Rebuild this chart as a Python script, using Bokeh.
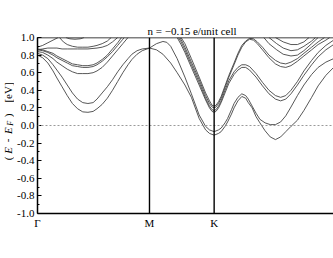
from bokeh.plotting import figure
from bokeh.layouts import row
from bokeh.models import Range1d, Span, Title, FixedTicker, SingleIntervalTicker, PrintfTickFormatter
from bokeh.core.properties import value
from bokeh.embed import file_html
from bokeh.resources import INLINE
from math import pi

TITLE = "n = \u22120.15 e/unit cell"
TICK_POS = [0.0, 0.866, 1.366]
TICK_LABELS = ["\u0393", "M", "K"]
K_END = 2.289

B1_K = [0.00,0.04,0.08,0.12,0.15,0.19,0.23,0.27,0.31,0.35,0.39,0.43,0.46,0.50,0.54,0.58,0.62,0.66,0.70,0.73,0.77,0.81,0.866,0.92,0.97,1.00,1.03,1.08,1.14,1.19,1.25,1.30,1.33,1.366,1.40,1.42,1.45,1.47,1.50,1.52,1.55,1.58,1.61,1.63,1.66,1.69,1.72,1.76,1.80,1.84,1.88,1.92,1.96,2.01,2.06,2.12,2.17,2.23,2.29]
B1_E = [0.80,0.77,0.71,0.62,0.54,0.44,0.34,0.25,0.19,0.155,0.15,0.16,0.19,0.24,0.31,0.40,0.50,0.60,0.69,0.75,0.81,0.85,0.88,0.93,0.955,0.945,0.90,0.76,0.55,0.36,0.12,-0.01,-0.05,-0.07,-0.05,-0.03,0.03,0.08,0.18,0.25,0.32,0.36,0.34,0.30,0.22,0.14,0.07,0.03,0.01,0.01,0.04,0.11,0.21,0.34,0.46,0.58,0.66,0.72,0.76]

B2_K = [0.00,0.04,0.08,0.12,0.15,0.19,0.23,0.27,0.31,0.35,0.39,0.43,0.46,0.50,0.54,0.58,0.62,0.66,0.70,0.73,0.77,0.81,0.866,0.92,0.97,1.03,1.08,1.14,1.19,1.25,1.30,1.33,1.366,1.40,1.42,1.45,1.47,1.50,1.52,1.55,1.58,1.61,1.63,1.66,1.69,1.72,1.76,1.80,1.84,1.88,1.92,1.96,2.01,2.06,2.12,2.17,2.23,2.29]
B2_E = [0.82,0.80,0.76,0.69,0.63,0.55,0.46,0.37,0.30,0.26,0.25,0.26,0.30,0.37,0.44,0.52,0.61,0.69,0.76,0.81,0.85,0.87,0.88,0.86,0.81,0.71,0.60,0.46,0.32,0.08,-0.05,-0.09,-0.11,-0.09,-0.07,-0.01,0.04,0.13,0.20,0.28,0.33,0.31,0.26,0.20,0.10,0.03,-0.06,-0.13,-0.16,-0.13,-0.07,-0.01,0.06,0.17,0.32,0.45,0.57,0.66]

C1_K = [1.08,1.11,1.14,1.19,1.25,1.30,1.33,1.35,1.366,1.38,1.40,1.42,1.45,1.48,1.52,1.55,1.58,1.61,1.64,1.69,1.74,1.79,1.84,1.88,1.92,1.96,2.01,2.06,2.12,2.17,2.23,2.29]
C1_E = [1.00,0.92,0.83,0.66,0.46,0.29,0.20,0.16,0.15,0.16,0.20,0.26,0.37,0.48,0.58,0.63,0.66,0.66,0.63,0.55,0.45,0.36,0.30,0.28,0.30,0.36,0.46,0.57,0.69,0.78,0.86,0.92]

C2_K = [1.09,1.11,1.14,1.19,1.25,1.30,1.33,1.35,1.366,1.38,1.40,1.42,1.45,1.48,1.52,1.55,1.58,1.61,1.64,1.69,1.74,1.79,1.84,1.88,1.92,1.96,2.01,2.06,2.12,2.17,2.23,2.29]
C2_E = [1.00,0.95,0.86,0.69,0.49,0.31,0.22,0.18,0.17,0.18,0.22,0.28,0.40,0.51,0.61,0.66,0.69,0.69,0.67,0.59,0.49,0.40,0.34,0.32,0.34,0.40,0.50,0.62,0.74,0.83,0.91,0.97]

C3_K = [1.10,1.12,1.14,1.19,1.25,1.30,1.33,1.35,1.366,1.38,1.40,1.42,1.45,1.48,1.52,1.55,1.58,1.61,1.64,1.67,1.70,1.74,1.79,1.84,1.88,1.92,1.96,2.01,2.06,2.12,2.17,2.23,2.26]
C3_E = [1.00,0.95,0.89,0.72,0.52,0.34,0.25,0.21,0.20,0.21,0.25,0.31,0.43,0.55,0.69,0.80,0.89,0.95,0.98,0.97,0.93,0.86,0.77,0.70,0.67,0.66,0.68,0.73,0.79,0.86,0.92,0.97,1.00]

C4_K = [1.11,1.14,1.19,1.25,1.30,1.33,1.35,1.366,1.38,1.40,1.42,1.45,1.48,1.52,1.55,1.58,1.61,1.64,1.67,1.70,1.74,1.79,1.84,1.88,1.92,1.96,2.01,2.06,2.12,2.17,2.22]
C4_E = [1.00,0.93,0.76,0.55,0.37,0.28,0.23,0.22,0.23,0.27,0.33,0.45,0.57,0.71,0.82,0.91,0.96,0.99,0.985,0.95,0.89,0.80,0.74,0.71,0.70,0.72,0.76,0.82,0.89,0.95,1.00]

GC_K = [0.00,0.04,0.08,0.12,0.15,0.19,0.23,0.27,0.31,0.35,0.39,0.43,0.46,0.50,0.54,0.58,0.62,0.66,0.70]
GC_E = [0.84,0.83,0.80,0.76,0.72,0.68,0.64,0.61,0.59,0.59,0.59,0.60,0.62,0.66,0.72,0.79,0.86,0.93,1.00]

GD_K = [0.00,0.04,0.08,0.12,0.15,0.19,0.23,0.27,0.31,0.35,0.39,0.43,0.46,0.50,0.54,0.58,0.62,0.66,0.67]
GD_E = [0.86,0.85,0.83,0.80,0.77,0.74,0.71,0.68,0.67,0.66,0.66,0.67,0.69,0.73,0.78,0.84,0.91,0.98,1.00]

GE_K = [0.00,0.04,0.08,0.12,0.15,0.19,0.23,0.27,0.31,0.35,0.39,0.43,0.46,0.50,0.54,0.58,0.62,0.65]
GE_E = [0.87,0.86,0.84,0.82,0.79,0.76,0.73,0.70,0.69,0.68,0.68,0.69,0.71,0.75,0.80,0.87,0.94,1.00]

GF_K = [0.00,0.04,0.08,0.12,0.15,0.19,0.23,0.31,0.39,0.46,0.50,0.54,0.58,0.62]
GF_E = [0.86,0.87,0.88,0.88,0.88,0.87,0.87,0.87,0.87,0.88,0.89,0.91,0.95,1.00]

GG0_K = [0.00,0.04,0.08,0.12,0.16]
GG0_E = [0.89,0.91,0.94,0.97,1.00]

GG_K = [0.17,0.20,0.23,0.27,0.31,0.35,0.39,0.43,0.46,0.50,0.54,0.57]
GG_E = [1.00,0.95,0.92,0.90,0.89,0.89,0.89,0.90,0.91,0.93,0.96,1.00]

GH_K = [0.22,0.25,0.29,0.33,0.36]
GH_E = [1.00,0.985,0.98,0.985,1.00]

U1_K = [1.75,1.79,1.85,1.90,1.96,2.01,2.06,2.12,2.17]
U1_E = [1.00,0.93,0.86,0.81,0.79,0.80,0.85,0.93,1.00]
U2_K = [1.79,1.85,1.90,1.96,2.01,2.06,2.12,2.15]
U2_E = [1.00,0.93,0.88,0.85,0.86,0.90,0.96,1.00]
U3_K = [1.84,1.90,1.96,2.01,2.06,2.10]
U3_E = [1.00,0.95,0.92,0.92,0.95,1.00]

BANDS = [(B1_K, B1_E), (B2_K, B2_E), (C1_K, C1_E), (C2_K, C2_E), (C3_K, C3_E), (C4_K, C4_E),
         (GC_K, GC_E), (GD_K, GD_E), (GE_K, GE_E), (GF_K, GF_E), (GG0_K, GG0_E), (GG_K, GG_E),
         (GH_K, GH_E), (U1_K, U1_E), (U2_K, U2_E), (U3_K, U3_E)]

YLABEL_PARTS = ["(", "E", "-", "E", "F", ")", "[eV]"]
YLABEL_POS = [-0.375, -0.284, -0.170, -0.057, 0.025, 0.114, 0.375]

SERIF = "Liberation Serif"
FRAME_W, FRAME_H = 296, 176
TOP, BOTTOM = 37, 37

lab = figure(frame_width=14, frame_height=FRAME_H, output_backend="svg", toolbar_location=None,
             x_range=Range1d(0, 14), y_range=Range1d(-1.0, 1.0),
             min_border_left=0, min_border_right=0, min_border_top=TOP, min_border_bottom=BOTTOM)
lab.axis.visible = False
lab.grid.visible = False
lab.outline_line_color = None
styles = ["normal", "italic", "normal", "italic", "italic", "normal", "normal"]
sizes = ["11px", "11px", "11px", "11px", "8px", "11px", "11px"]
xs = [7, 7, 7, 7, 10, 7, 7]
for txt, yy, st, sz, xx in zip(YLABEL_PARTS, YLABEL_POS, styles, sizes, xs):
    lab.text(x=[xx], y=[yy], text=[txt], angle=pi / 2, text_align="center", text_baseline="middle",
             text_font=value(SERIF), text_font_style=st, text_font_size=sz, text_color="black")

p = figure(frame_width=FRAME_W, frame_height=FRAME_H, output_backend="svg", toolbar_location=None,
           x_range=Range1d(0, K_END), y_range=Range1d(-1.0, 1.0),
           min_border_left=21, min_border_right=0, min_border_top=TOP, min_border_bottom=BOTTOM)
p.outline_line_color = None
p.grid.visible = False

for kk, ee in BANDS:
    p.line(kk, ee, line_color="#444444", line_width=0.9)

p.add_layout(Span(location=0.0, dimension="width", line_color="#9a9a9a", line_width=1, line_dash="2 2"))
for t in TICK_POS[1:]:
    p.add_layout(Span(location=t, dimension="height", line_color="black", line_width=1.4))
p.add_layout(Span(location=1.0, dimension="width", line_color="black", line_width=1.4))

ya = p.yaxis[0]
ya.ticker = SingleIntervalTicker(interval=0.2, num_minor_ticks=2)
ya.formatter = PrintfTickFormatter(format="%.1f")
ya.axis_line_width = 1.5
ya.axis_line_color = "black"
ya.major_tick_in = 4
ya.major_tick_out = 0
ya.minor_tick_in = 2
ya.minor_tick_out = 0
ya.major_tick_line_width = 1.2
ya.major_label_standoff = 3
ya.major_label_text_font = SERIF
ya.major_label_text_font_size = "11px"
ya.major_label_text_color = "black"

xa = p.xaxis[0]
xa.ticker = FixedTicker(ticks=TICK_POS)
xa.major_label_overrides = {t: lab_ for t, lab_ in zip(TICK_POS, TICK_LABELS)}
xa.axis_line_width = 1.5
xa.axis_line_color = "black"
xa.major_tick_in = 0
xa.major_tick_out = 0
xa.minor_tick_line_color = None
xa.major_label_standoff = 3
xa.major_label_text_font = SERIF
xa.major_label_text_font_size = "11px"
xa.major_label_text_color = "black"

p.add_layout(Title(text=TITLE, align="left", offset=110, standoff=2, text_font=SERIF,
                   text_font_size="11px", text_font_style="normal", text_color="black"), "above")

layout = row(lab, p, spacing=0)
open("out.html", "w").write(file_html(layout, INLINE))
